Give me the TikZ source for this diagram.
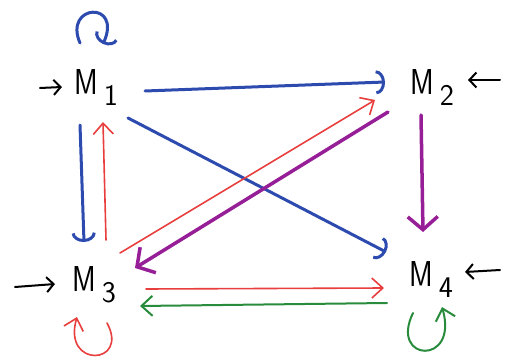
\documentclass[tikz,border=0pt]{standalone}
\usetikzlibrary{arrows.meta,calc}
\definecolor{cblue}{RGB}{45,75,175}
\definecolor{cred}{RGB}{232,62,62}
\definecolor{cpurple}{RGB}{150,30,150}
\definecolor{cgreen}{RGB}{40,140,60}
\tikzset{
  lab/.style={inner sep=0pt, font=\sffamily\fontsize{36}{36}\selectfont},
  bluearr/.style={draw=cblue, line width=3pt, line cap=round, -{Arc Barb[length=9pt,width=24pt,line width=3pt]}},
  redarr/.style={draw=cred, line width=1.6pt, line cap=round, -{Straight Barb[length=11pt,width=20pt,line width=1.6pt]}},
  purplearr/.style={draw=cpurple, line width=3.5pt, line cap=round, -{Straight Barb[length=13pt,width=30pt,line width=3.5pt]}},
  greenarr/.style={draw=cgreen, line width=2pt, line cap=round, -{Straight Barb[length=11pt,width=20pt,line width=2pt]}},
  inarr/.style={draw=black, line width=2pt, line cap=round, -{Straight Barb[length=7pt,width=15pt,line width=2pt]}},
}
\newcommand{\mlab}[1]{\scalebox{0.8}[1]{M}\hspace{6pt}\raisebox{-11pt}{\fontsize{30}{30}\selectfont #1}}
\begin{document}
\begin{tikzpicture}[x=1pt,y=-1pt]
\useasboundingbox (0,0) rectangle (517,361);
\node[lab] (m1) at (96,88) {\mlab{1}};
\node[lab] (m2) at (432,88) {\mlab{2}};
\node[lab] (m3) at (94,285) {\mlab{3}};
\node[lab] (m4) at (431,280) {\mlab{4}};
% input arrows
\coordinate (i1) at (40,88);
\coordinate (i2) at (500,80);
\coordinate (i3) at (15,287);
\coordinate (i4) at (500,270);
\draw[inarr] (i1) -- ($(m1)+(-34,-1)$);
\draw[inarr] (i2) -- ($(m2)+(36,-8)$);
\draw[inarr] (i3) -- ($(m3)+(-39,-1)$);
\draw[inarr] (i4) -- ($(m4)+(34,-8)$);
% edges
\draw[bluearr] ($(m1)+(49,3)$) -- ($(m2)+(-47,-6)$);
\draw[bluearr] ($(m1)+(32,30)$) -- ($(m4)+(-45,-28)$);
\draw[bluearr] ($(m1)+(-16,37)$) -- ($(m3)+(-10,-43)$);
\draw[redarr] ($(m3)+(12,-45)$) -- ($(m1)+(7,34)$);
\draw[redarr] ($(m3)+(26,-32)$) -- ($(m2)+(-57,12)$);
\draw[purplearr] ($(m2)+(-44,24)$) -- ($(m3)+(41,-17)$);
\draw[purplearr] ($(m2)+(-11,27)$) -- ($(m4)+(-8,-48)$);
\draw[redarr] ($(m3)+(52,4)$) -- ($(m4)+(-47,8)$);
\draw[greenarr] ($(m4)+(-44,23)$) -- ($(m3)+(46,21)$);
% loops
\draw[bluearr] ($(m1)+(-16,-45)$) .. controls ($(m1)+(-33,-84)$) and ($(m1)+(27,-88)$) .. ($(m1)+(7,-44)$);
\draw[redarr] ($(m3)+(13,38)$) .. controls ($(m3)+(36,80)$) and ($(m3)+(-32,84)$) .. ($(m3)+(-17,32)$);
\draw[greenarr] ($(m4)+(-18,33)$) .. controls ($(m4)+(-42,82)$) and ($(m4)+(28,86)$) .. ($(m4)+(11,27)$);
\end{tikzpicture}
\end{document}
